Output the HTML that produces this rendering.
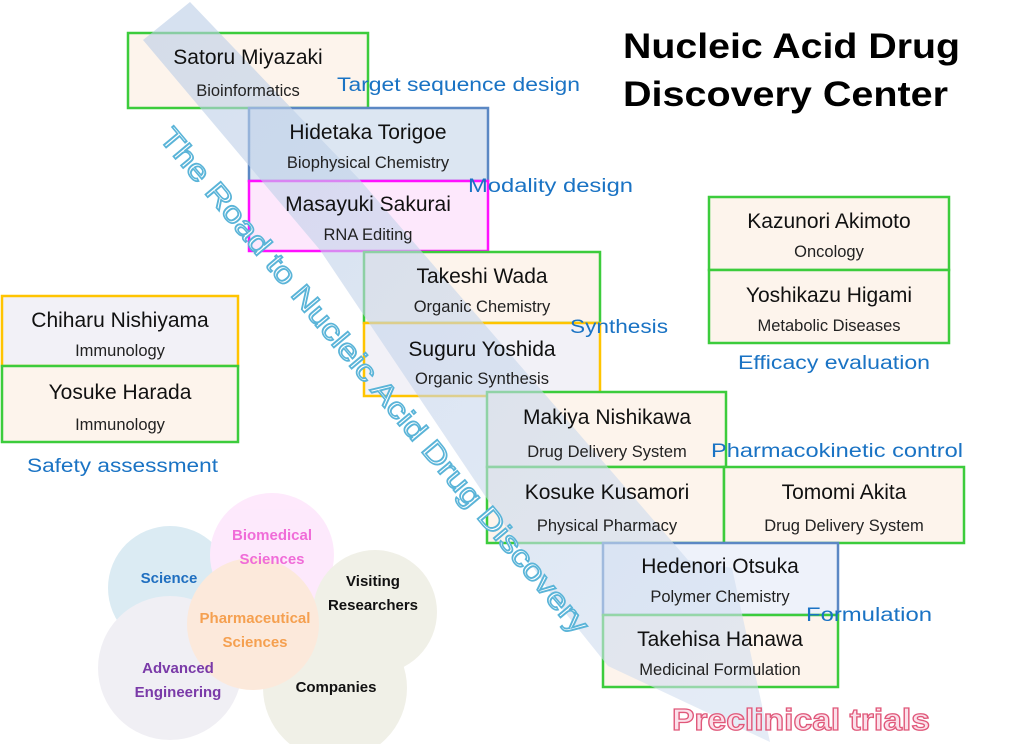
<!DOCTYPE html>
<html><head><meta charset="utf-8"><style>
html,body{margin:0;padding:0;background:#fff;}
svg{display:block;}
.n{font-family:"Liberation Sans",sans-serif;font-size:21px;fill:#111;text-anchor:middle;}
.s{font-family:"Liberation Sans",sans-serif;font-size:16.5px;fill:#222;text-anchor:middle;}
.l{font-family:"Liberation Sans",sans-serif;font-size:19px;fill:#1a73c4;}
.c{font-family:"Liberation Sans",sans-serif;font-size:15px;font-weight:bold;text-anchor:middle;}
</style></head><body>
<svg width="1024" height="744" viewBox="0 0 1024 744" xmlns="http://www.w3.org/2000/svg">
<defs>
<linearGradient id="ag" x1="0" y1="0" x2="1" y2="1">
<stop offset="0" stop-color="#b9cce6"/><stop offset="1" stop-color="#d4e0f1"/>
</linearGradient>
</defs>
<g opacity="0.75">
<circle cx="170" cy="588" r="62" fill="#cfe5ef"/>
<circle cx="272" cy="555" r="62" fill="#fde2fb"/>
<circle cx="375" cy="612" r="62" fill="#ecebdf"/>
<circle cx="170" cy="668" r="72" fill="#eceaf1"/>
<circle cx="335" cy="688" r="72" fill="#ecebe0"/>
<circle cx="253" cy="624" r="66" fill="#fbe2d0"/>
</g>
<text class="c" x="169" y="583" fill="#1f6fc0">Science</text>
<text class="c" x="272" y="540" fill="#f06cd8">Biomedical</text>
<text class="c" x="272" y="564" fill="#f06cd8">Sciences</text>
<text class="c" x="373" y="586" fill="#111">Visiting</text>
<text class="c" x="373" y="610" fill="#111">Researchers</text>
<text class="c" x="255" y="623" fill="#f5a050">Pharmaceutical</text>
<text class="c" x="255" y="647" fill="#f5a050">Sciences</text>
<text class="c" x="178" y="673" fill="#7a3aa8">Advanced</text>
<text class="c" x="178" y="697" fill="#7a3aa8">Engineering</text>
<text class="c" x="336" y="692" fill="#111">Companies</text>

<g stroke-width="2.5">
<rect x="128" y="33" width="240" height="75" fill="#fdf4ec" stroke="#3ccc3c"/>
<rect x="249" y="108" width="239" height="73" fill="#dce6f2" stroke="#5b88c4"/>
<rect x="249" y="181" width="239" height="70" fill="#fde8fc" stroke="#ff10ff"/>
<rect x="364" y="252" width="236" height="71" fill="#fdf4ec" stroke="#3ccc3c"/>
<rect x="364" y="323" width="236" height="73" fill="#f2f1f7" stroke="#ffc400"/>
<rect x="2" y="296" width="236" height="70" fill="#f2f1f7" stroke="#ffc400"/>
<rect x="2" y="366" width="236" height="76" fill="#fdf4ec" stroke="#3ccc3c"/>
<rect x="709" y="197" width="240" height="73" fill="#fdf4ec" stroke="#3ccc3c"/>
<rect x="709" y="270" width="240" height="73" fill="#fdf4ec" stroke="#3ccc3c"/>
<rect x="487" y="392" width="239" height="75" fill="#fdf4ec" stroke="#3ccc3c"/>
<rect x="487" y="467" width="237" height="76" fill="#fdf4ec" stroke="#3ccc3c"/>
<rect x="724" y="467" width="240" height="76" fill="#fdf4ec" stroke="#3ccc3c"/>
<rect x="603" y="543" width="235" height="72" fill="#eef2fa" stroke="#5b88c4"/>
<rect x="603" y="615" width="235" height="72" fill="#fdf4ec" stroke="#3ccc3c"/>
</g>

<polygon points="190,2 143,40 320,250 555,600 608,666 770,742 732,568 688,560 360,180" fill="url(#ag)" opacity="0.6"/>

<text class="n" x="248" y="64">Satoru Miyazaki</text><text class="s" x="248" y="96">Bioinformatics</text>
<text class="n" x="368" y="139">Hidetaka Torigoe</text><text class="s" x="368" y="168">Biophysical Chemistry</text>
<text class="n" x="368" y="211">Masayuki Sakurai</text><text class="s" x="368" y="240">RNA Editing</text>
<text class="n" x="482" y="283">Takeshi Wada</text><text class="s" x="482" y="312">Organic Chemistry</text>
<text class="n" x="482" y="356">Suguru Yoshida</text><text class="s" x="482" y="384">Organic Synthesis</text>
<text class="n" x="120" y="327">Chiharu Nishiyama</text><text class="s" x="120" y="356">Immunology</text>
<text class="n" x="120" y="399">Yosuke Harada</text><text class="s" x="120" y="430">Immunology</text>
<text class="n" x="829" y="228">Kazunori Akimoto</text><text class="s" x="829" y="257">Oncology</text>
<text class="n" x="829" y="302">Yoshikazu Higami</text><text class="s" x="829" y="331">Metabolic Diseases</text>
<text class="n" x="607" y="424">Makiya Nishikawa</text><text class="s" x="607" y="457">Drug Delivery System</text>
<text class="n" x="607" y="499">Kosuke Kusamori</text><text class="s" x="607" y="531">Physical Pharmacy</text>
<text class="n" x="844" y="499">Tomomi Akita</text><text class="s" x="844" y="531">Drug Delivery System</text>
<text class="n" x="720" y="573">Hedenori Otsuka</text><text class="s" x="720" y="602">Polymer Chemistry</text>
<text class="n" x="720" y="646">Takehisa Hanawa</text><text class="s" x="720" y="675">Medicinal Formulation</text>

<text class="l" x="337" y="91" textLength="243" lengthAdjust="spacingAndGlyphs">Target sequence design</text>
<text class="l" x="468" y="192" textLength="165" lengthAdjust="spacingAndGlyphs">Modality design</text>
<text class="l" x="570" y="333" textLength="98" lengthAdjust="spacingAndGlyphs">Synthesis</text>
<text class="l" x="738" y="369" textLength="192" lengthAdjust="spacingAndGlyphs">Efficacy evaluation</text>
<text class="l" x="711" y="457" textLength="252" lengthAdjust="spacingAndGlyphs">Pharmacokinetic control</text>
<text class="l" x="806" y="621" textLength="126" lengthAdjust="spacingAndGlyphs">Formulation</text>
<text class="l" x="27" y="472" textLength="191" lengthAdjust="spacingAndGlyphs">Safety assessment</text>

<text x="623" y="58" font-family="Liberation Sans,sans-serif" font-size="35" font-weight="bold" fill="#000" textLength="337" lengthAdjust="spacingAndGlyphs">Nucleic Acid Drug</text>
<text x="623" y="106" font-family="Liberation Sans,sans-serif" font-size="35" font-weight="bold" fill="#000" textLength="325" lengthAdjust="spacingAndGlyphs">Discovery Center</text>

<text transform="translate(158,138) rotate(50)" font-family="Liberation Sans,sans-serif" font-size="29" fill="#fff" stroke="#5ab4d8" stroke-width="1.6" textLength="650" lengthAdjust="spacingAndGlyphs">The Road to Nucleic Acid Drug Discovery</text>

<text x="672" y="730" font-family="Liberation Sans,sans-serif" font-size="31" font-weight="bold" fill="#fbe0ea" stroke="#e0587a" stroke-width="1.3" textLength="258" lengthAdjust="spacingAndGlyphs">Preclinical trials</text>
</svg>
</body></html>
